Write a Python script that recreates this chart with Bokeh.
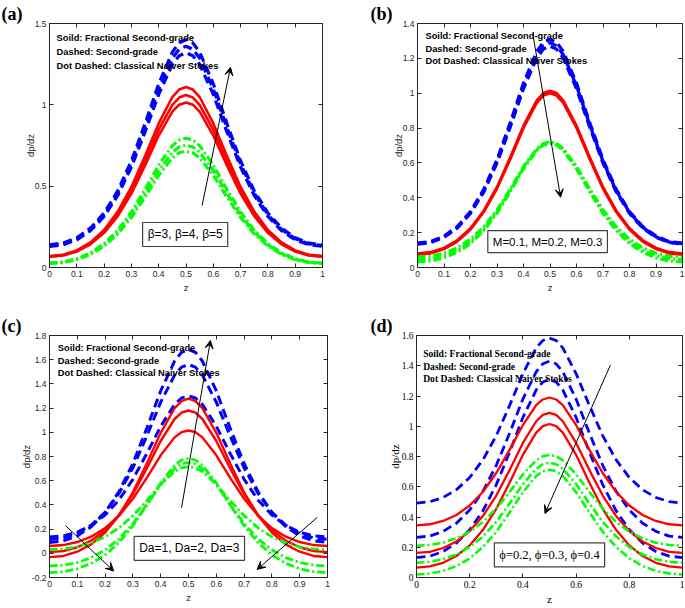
from bokeh.plotting import figure
from bokeh.layouts import column, row
from bokeh.models import (Label, Arrow, VeeHead, FixedTicker, CustomJSTickFormatter,
                          LinearAxis, Range1d)
from bokeh.embed import file_html
from bokeh.resources import INLINE

# ---------------- data ----------------
Z = [0.0, 0.05, 0.1, 0.15, 0.2, 0.25, 0.3, 0.35, 0.4, 0.45, 0.475, 0.5,
     0.525, 0.55, 0.6, 0.65, 0.7, 0.75, 0.8, 0.85, 0.9, 0.95, 1.0]

# (a) beta = 3, 4, 5
A_SECOND_GRADE = [
    [0.140, 0.150, 0.183, 0.242, 0.335, 0.471, 0.655, 0.885, 1.129, 1.324, 1.381, 1.400, 1.381, 1.324, 1.129, 0.885, 0.655, 0.471, 0.335, 0.242, 0.183, 0.150, 0.140],
    [0.135, 0.145, 0.177, 0.234, 0.325, 0.457, 0.636, 0.859, 1.097, 1.287, 1.342, 1.360, 1.342, 1.287, 1.097, 0.859, 0.636, 0.457, 0.325, 0.234, 0.177, 0.145, 0.135],
    [0.130, 0.140, 0.170, 0.226, 0.314, 0.443, 0.617, 0.833, 1.064, 1.249, 1.302, 1.320, 1.302, 1.249, 1.064, 0.833, 0.617, 0.443, 0.314, 0.226, 0.170, 0.140, 0.130],
]
A_FRACTIONAL = [
    [0.070, 0.078, 0.105, 0.154, 0.231, 0.344, 0.495, 0.685, 0.886, 1.048, 1.094, 1.110, 1.094, 1.048, 0.886, 0.685, 0.495, 0.344, 0.231, 0.154, 0.105, 0.078, 0.070],
    [0.068, 0.076, 0.102, 0.148, 0.222, 0.329, 0.474, 0.654, 0.847, 1.000, 1.045, 1.060, 1.045, 1.000, 0.847, 0.654, 0.474, 0.329, 0.222, 0.148, 0.102, 0.076, 0.068],
    [0.066, 0.074, 0.098, 0.143, 0.213, 0.316, 0.454, 0.627, 0.811, 0.958, 1.001, 1.015, 1.001, 0.958, 0.811, 0.627, 0.454, 0.316, 0.213, 0.143, 0.098, 0.074, 0.066],
]
A_NAVIER = [
    [0.028, 0.034, 0.054, 0.090, 0.147, 0.230, 0.342, 0.481, 0.630, 0.749, 0.784, 0.795, 0.784, 0.749, 0.630, 0.481, 0.342, 0.230, 0.147, 0.090, 0.054, 0.034, 0.028],
    [0.026, 0.032, 0.051, 0.085, 0.139, 0.217, 0.323, 0.455, 0.596, 0.708, 0.741, 0.752, 0.741, 0.708, 0.596, 0.455, 0.323, 0.217, 0.139, 0.085, 0.051, 0.032, 0.026],
    [0.024, 0.030, 0.048, 0.080, 0.131, 0.206, 0.307, 0.432, 0.566, 0.674, 0.705, 0.715, 0.705, 0.674, 0.566, 0.432, 0.307, 0.206, 0.131, 0.080, 0.048, 0.030, 0.024],
]

# (b) M = 0.1, 0.2, 0.3
B_SECOND_GRADE = [
    [0.140, 0.149, 0.180, 0.235, 0.321, 0.448, 0.619, 0.832, 1.058, 1.240, 1.292, 1.310, 1.292, 1.240, 1.058, 0.832, 0.619, 0.448, 0.321, 0.235, 0.180, 0.149, 0.140],
    [0.137, 0.146, 0.176, 0.230, 0.316, 0.440, 0.609, 0.818, 1.042, 1.221, 1.273, 1.290, 1.273, 1.221, 1.042, 0.818, 0.609, 0.440, 0.316, 0.230, 0.176, 0.146, 0.137],
    [0.134, 0.143, 0.173, 0.226, 0.310, 0.433, 0.599, 0.805, 1.026, 1.202, 1.253, 1.270, 1.253, 1.202, 1.026, 0.805, 0.599, 0.433, 0.310, 0.226, 0.173, 0.143, 0.134],
]
B_FRACTIONAL = [
    [0.080, 0.088, 0.112, 0.156, 0.225, 0.326, 0.462, 0.633, 0.814, 0.959, 1.001, 1.015, 1.001, 0.959, 0.814, 0.633, 0.462, 0.326, 0.225, 0.156, 0.112, 0.088, 0.080],
    [0.077, 0.084, 0.109, 0.152, 0.221, 0.322, 0.457, 0.627, 0.807, 0.951, 0.993, 1.007, 0.993, 0.951, 0.807, 0.627, 0.457, 0.322, 0.221, 0.152, 0.109, 0.084, 0.077],
    [0.074, 0.081, 0.106, 0.149, 0.218, 0.318, 0.453, 0.621, 0.801, 0.944, 0.986, 1.000, 0.986, 0.944, 0.801, 0.621, 0.453, 0.318, 0.218, 0.149, 0.106, 0.081, 0.074],
]
B_NAVIER = [
    [0.060, 0.065, 0.083, 0.114, 0.163, 0.234, 0.331, 0.451, 0.580, 0.682, 0.712, 0.722, 0.712, 0.682, 0.580, 0.451, 0.331, 0.234, 0.163, 0.114, 0.083, 0.065, 0.060],
    [0.045, 0.050, 0.068, 0.099, 0.149, 0.222, 0.320, 0.442, 0.573, 0.677, 0.707, 0.717, 0.707, 0.677, 0.573, 0.442, 0.320, 0.222, 0.149, 0.099, 0.068, 0.050, 0.045],
    [0.032, 0.037, 0.055, 0.087, 0.137, 0.211, 0.310, 0.434, 0.566, 0.671, 0.702, 0.712, 0.702, 0.671, 0.566, 0.434, 0.310, 0.211, 0.137, 0.087, 0.055, 0.037, 0.032],
]

# (c) Da = 1, 2, 3
C_SECOND_GRADE = [
    [0.135, 0.144, 0.175, 0.229, 0.316, 0.441, 0.612, 0.824, 1.050, 1.230, 1.283, 1.300, 1.283, 1.230, 1.050, 0.824, 0.612, 0.441, 0.316, 0.229, 0.175, 0.144, 0.135],
    [0.115, 0.127, 0.164, 0.232, 0.339, 0.495, 0.706, 0.969, 1.249, 1.473, 1.538, 1.560, 1.538, 1.473, 1.249, 0.969, 0.706, 0.495, 0.339, 0.232, 0.164, 0.127, 0.115],
    [0.090, 0.103, 0.144, 0.219, 0.337, 0.510, 0.742, 1.033, 1.342, 1.589, 1.661, 1.685, 1.661, 1.589, 1.342, 1.033, 0.742, 0.510, 0.337, 0.219, 0.144, 0.103, 0.090],
]
C_FRACTIONAL = [
    [0.060, 0.068, 0.093, 0.137, 0.208, 0.311, 0.451, 0.624, 0.810, 0.958, 1.001, 1.015, 1.001, 0.958, 0.810, 0.624, 0.451, 0.311, 0.208, 0.137, 0.093, 0.068, 0.060],
    [0.010, 0.019, 0.050, 0.105, 0.191, 0.318, 0.489, 0.701, 0.928, 1.110, 1.162, 1.180, 1.162, 1.110, 0.928, 0.701, 0.489, 0.318, 0.191, 0.105, 0.050, 0.019, 0.010],
    [-0.032, -0.022, 0.013, 0.074, 0.171, 0.313, 0.504, 0.742, 0.996, 1.199, 1.258, 1.278, 1.258, 1.199, 0.996, 0.742, 0.504, 0.313, 0.171, 0.074, 0.013, -0.022, -0.032],
]
C_NAVIER = [
    [0.030, 0.036, 0.053, 0.086, 0.136, 0.210, 0.311, 0.435, 0.569, 0.675, 0.706, 0.716, 0.706, 0.675, 0.569, 0.435, 0.311, 0.210, 0.136, 0.086, 0.053, 0.036, 0.030],
    [-0.105, -0.098, -0.076, -0.036, 0.028, 0.120, 0.245, 0.401, 0.567, 0.700, 0.738, 0.751, 0.738, 0.700, 0.567, 0.401, 0.245, 0.120, 0.028, -0.036, -0.076, -0.098, -0.105],
    [-0.160, -0.152, -0.128, -0.083, -0.014, 0.089, 0.227, 0.399, 0.582, 0.728, 0.771, 0.785, 0.771, 0.728, 0.582, 0.399, 0.227, 0.089, -0.014, -0.083, -0.128, -0.152, -0.160],
]

# (d) phi = 0.2, 0.3, 0.4
D_SECOND_GRADE = [
    [0.492, 0.501, 0.529, 0.580, 0.661, 0.779, 0.938, 1.137, 1.348, 1.518, 1.567, 1.583, 1.567, 1.518, 1.348, 1.137, 0.938, 0.779, 0.661, 0.580, 0.529, 0.501, 0.492],
    [0.265, 0.274, 0.305, 0.359, 0.446, 0.571, 0.742, 0.954, 1.180, 1.360, 1.413, 1.430, 1.413, 1.360, 1.180, 0.954, 0.742, 0.571, 0.446, 0.359, 0.305, 0.274, 0.265],
    [0.132, 0.141, 0.172, 0.228, 0.315, 0.442, 0.614, 0.829, 1.058, 1.240, 1.293, 1.311, 1.293, 1.240, 1.058, 0.829, 0.614, 0.442, 0.315, 0.228, 0.172, 0.141, 0.132],
]
D_FRACTIONAL = [
    [0.345, 0.352, 0.374, 0.413, 0.476, 0.567, 0.691, 0.844, 1.008, 1.139, 1.177, 1.190, 1.177, 1.139, 1.008, 0.844, 0.691, 0.567, 0.476, 0.413, 0.374, 0.352, 0.345],
    [0.163, 0.170, 0.195, 0.238, 0.307, 0.407, 0.542, 0.710, 0.890, 1.033, 1.075, 1.089, 1.075, 1.033, 0.890, 0.710, 0.542, 0.407, 0.307, 0.238, 0.195, 0.170, 0.163],
    [0.065, 0.073, 0.097, 0.142, 0.212, 0.315, 0.454, 0.627, 0.811, 0.958, 1.001, 1.015, 1.001, 0.958, 0.811, 0.627, 0.454, 0.315, 0.212, 0.142, 0.097, 0.073, 0.065],
]
D_NAVIER = [
    [0.210, 0.215, 0.230, 0.259, 0.303, 0.368, 0.456, 0.565, 0.682, 0.775, 0.802, 0.811, 0.802, 0.775, 0.682, 0.565, 0.456, 0.368, 0.303, 0.259, 0.230, 0.215, 0.210],
    [0.098, 0.103, 0.121, 0.152, 0.201, 0.272, 0.368, 0.489, 0.617, 0.719, 0.749, 0.759, 0.749, 0.719, 0.617, 0.489, 0.368, 0.272, 0.201, 0.152, 0.121, 0.103, 0.098],
    [0.020, 0.026, 0.044, 0.076, 0.127, 0.202, 0.303, 0.430, 0.564, 0.671, 0.703, 0.713, 0.703, 0.671, 0.564, 0.430, 0.303, 0.202, 0.127, 0.076, 0.044, 0.026, 0.020],
]

X_TICKS = [0, 0.1, 0.2, 0.3, 0.4, 0.5, 0.6, 0.7, 0.8, 0.9, 1]
X_TICKS_D = [0, 0.2, 0.4, 0.6, 0.8, 1]
Y_TICKS_A = [0, 0.5, 1, 1.5]
Y_TICKS_B = [0, 0.2, 0.4, 0.6, 0.8, 1, 1.2, 1.4]
Y_TICKS_C = [-0.2, 0, 0.2, 0.4, 0.6, 0.8, 1, 1.2, 1.4, 1.6, 1.8]
Y_TICKS_D = [0, 0.2, 0.4, 0.6, 0.8, 1, 1.2, 1.4, 1.6]

NOTE_LINES = ["Soild: Fractional Second-grade", "Dashed: Second-grade",
              "Dot Dashed: Classical Naiver Stokes"]
BOX_A = "\u03b2=3, \u03b2=4, \u03b2=5"
BOX_B = "M=0.1, M=0.2, M=0.3"
BOX_C = "Da=1, Da=2, Da=3"
BOX_D = "\u03d5=0.2, \u03d5=0.3, \u03d5=0.4"
Y_LABEL = "dp/dz"
X_LABEL = "z"

AX = "#262626"


def make_panel(cfg, sg, fr, ns):
    serif = cfg["serif"]
    fam = "Liberation Serif" if serif else "Liberation Sans"
    p = figure(width=cfg["w"], height=cfg["h"], output_backend="svg", toolbar_location=None,
               x_range=Range1d(0, 1), y_range=Range1d(*cfg["yr"]), title=cfg["tag"],
               min_border_left=cfg["b"][0], min_border_right=cfg["b"][1],
               min_border_top=cfg["b"][2], min_border_bottom=cfg["b"][3])
    p.title.align = "left"
    p.title.offset = cfg["tag_off"]
    p.title.standoff = 0
    p.title.text_font = "Liberation Serif"
    p.title.text_font_size = "18px"
    p.title.text_font_style = "bold"
    p.title.text_color = "black"
    p.xgrid.visible = False
    p.ygrid.visible = False
    p.outline_line_color = AX
    p.background_fill_color = "white"
    p.border_fill_color = "white"
    fmt = CustomJSTickFormatter(code="return String(Number(tick.toFixed(2)));")
    for ax, ticks, lab in ((p.xaxis[0], cfg["xt"], X_LABEL), (p.yaxis[0], cfg["yt"], Y_LABEL)):
        ax.ticker = FixedTicker(ticks=ticks)
        ax.formatter = fmt
        ax.major_tick_in = 4
        ax.major_tick_out = 0
        ax.minor_tick_line_color = None
        ax.axis_line_color = AX
        ax.major_tick_line_color = AX
        ax.major_label_text_font = fam
        ax.major_label_text_font_size = "9.5px" if serif else "8.5px"
        ax.major_label_text_color = "#000000" if serif else AX
        ax.major_label_standoff = 3
        ax.axis_label = lab
        ax.axis_label_text_font = fam
        ax.axis_label_text_font_style = "normal"
        ax.axis_label_text_font_size = "11px" if serif else "9.5px"
        ax.axis_label_text_color = "#000000" if serif else AX
    p.xaxis[0].axis_label_standoff = cfg["xl_so"]
    p.yaxis[0].axis_label_standoff = cfg["yl_so"]
    for loc, ticks in (("above", cfg["xt"]), ("right", cfg["yt"])):
        ax = LinearAxis(ticker=FixedTicker(ticks=ticks), major_tick_in=4, major_tick_out=0,
                        minor_tick_line_color=None, axis_line_color=AX,
                        major_tick_line_color=AX, major_label_text_font_size="0px",
                        major_label_standoff=0,
                        formatter=CustomJSTickFormatter(code="return '';"))
        p.add_layout(ax, loc)

    lw = cfg["lw"]
    for ys in sg:
        p.line(Z, ys, line_color="#0000ff", line_width=lw[0], line_dash="9 5")
    for ys in fr:
        p.line(Z, ys, line_color="#ff0000", line_width=lw[1])
    for ys in ns:
        p.line(Z, ys, line_color="#00ff00", line_width=lw[2], line_dash="8 3 2 3")

    nx, nys = cfg["notes"]
    for txt, ny in zip(NOTE_LINES, nys):
        p.add_layout(Label(x=nx, y=ny, text=txt, text_font=fam, text_font_style="bold",
                           text_font_size="9.6px" if serif else "9.3px",
                           text_align="left", text_baseline="middle", text_color="black"))
    bx, by = cfg["box_xy"]
    p.add_layout(Label(x=bx, y=by, text=cfg["box"], text_font=fam,
                       text_font_size=cfg["box_fs"], text_align="center",
                       text_baseline="middle", text_color="black",
                       background_fill_color="white", border_line_color="#404040",
                       border_line_width=1.2, padding=5))
    for (x0, y0, x1, y1) in cfg["arrows"]:
        p.add_layout(Arrow(x_start=x0, y_start=y0, x_end=x1, y_end=y1,
                           line_color="black", line_width=1,
                           end=VeeHead(size=8, fill_color="black", line_color="black",
                                       line_width=1)))
    return p


cfg_a = dict(serif=False, w=370, h=310, b=(49, 48, 23, 43), yr=(0, 1.5),
             xt=X_TICKS, yt=Y_TICKS_A, lw=(3.2, 2.6, 3.0), xl_so=2, yl_so=-4,
             notes=(0.026, [1.408, 1.322, 1.236]), box=BOX_A, box_xy=(0.497, 0.203),
             box_fs="12px", arrows=[(0.559, 0.381, 0.663, 1.231)],
             tag="(a)", tag_off=-48)
cfg_b = dict(serif=False, w=314, h=310, b=(47, 2, 23, 43), yr=(0, 1.4),
             xt=X_TICKS, yt=Y_TICKS_B, lw=(3.2, 2.6, 3.0), xl_so=2, yl_so=-4,
             notes=(0.030, [1.331, 1.255, 1.182]), box=BOX_B, box_xy=(0.491, 0.149),
             box_fs="11.5px", arrows=[(0.435, 1.341, 0.540, 0.403)],
             tag="(b)", tag_off=-47)
cfg_c = dict(serif=False, w=370, h=297, b=(49, 43, 25, 26), yr=(-0.2, 1.8),
             xt=X_TICKS, yt=Y_TICKS_C, lw=(3.0, 2.4, 2.8), xl_so=2, yl_so=-3,
             notes=(0.030, [1.70, 1.591, 1.489]), box=BOX_C, box_xy=(0.503, 0.041),
             box_fs="12px",
             arrows=[(0.475, 0.377, 0.579, 1.759), (0.058, 0.228, 0.231, -0.146),
                     (0.963, 0.296, 0.747, -0.133)],
             tag="(c)", tag_off=-48)
cfg_d = dict(serif=True, w=314, h=297, b=(46, 2, 25, 26), yr=(0, 1.6),
             xt=X_TICKS_D, yt=Y_TICKS_D, lw=(2.8, 2.3, 2.6), xl_so=2, yl_so=-2,
             notes=(0.025, [1.481, 1.398, 1.316]), box=BOX_D, box_xy=(0.5, 0.150),
             box_fs="12.5px", arrows=[(0.729, 1.405, 0.483, 0.423)],
             tag="(d)", tag_off=-46)

pa = make_panel(cfg_a, A_SECOND_GRADE, A_FRACTIONAL, A_NAVIER)
pb = make_panel(cfg_b, B_SECOND_GRADE, B_FRACTIONAL, B_NAVIER)
pc = make_panel(cfg_c, C_SECOND_GRADE, C_FRACTIONAL, C_NAVIER)
pd = make_panel(cfg_d, D_SECOND_GRADE, D_FRACTIONAL, D_NAVIER)

layout = column(row(pa, pb), row(pc, pd))
open("out.html", "w").write(file_html(layout, INLINE))
